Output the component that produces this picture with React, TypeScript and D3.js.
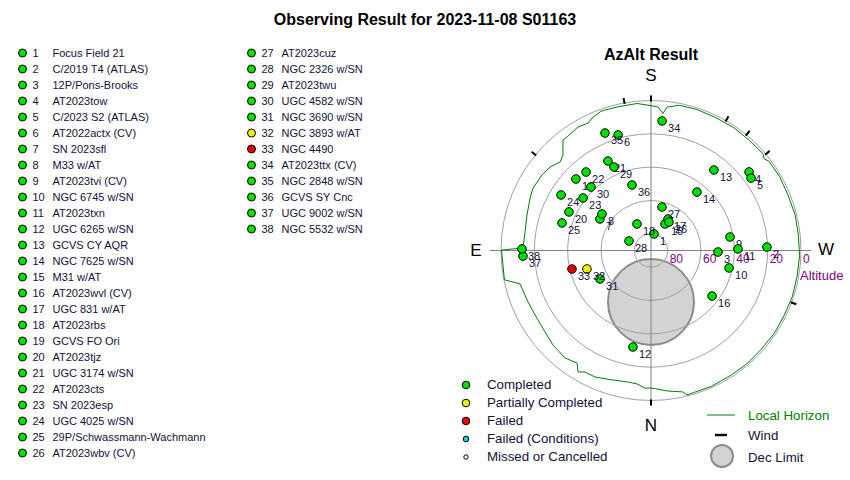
import { useEffect } from "react";
import * as d3 from "d3";

// targets, in plan order
const targetNames = [
  "Focus Field 21", "C/2019 T4 (ATLAS)", "12P/Pons-Brooks", "AT2023tow", "C/2023 S2 (ATLAS)",
  "AT2022actx (CV)", "SN 2023sfl", "M33 w/AT", "AT2023tvi (CV)", "NGC 6745 w/SN",
  "AT2023txn", "UGC 6265 w/SN", "GCVS CY AQR", "NGC 7625 w/SN", "M31 w/AT",
  "AT2023wvl (CV)", "UGC 831 w/AT", "AT2023rbs", "GCVS FO Ori", "AT2023tjz",
  "UGC 3174 w/SN", "AT2023cts", "SN 2023esp", "UGC 4025 w/SN", "29P/Schwassmann-Wachmann",
  "AT2023wbv (CV)", "AT2023cuz", "NGC 2326 w/SN", "AT2023twu", "UGC 4582 w/SN",
  "NGC 3690 w/SN", "NGC 3893 w/AT", "NGC 4490", "AT2023ttx (CV)", "NGC 2848 w/SN",
  "GCVS SY Cnc", "UGC 9002 w/SN", "NGC 5532 w/SN",
];
const targetAz = [
  190.3, 268.3, 271.3, 231.3, 234.1, 164.1, 121.7, 126.7, 260.3, 282.6,
  269.0, 10.6, 218.0, 218.2, 207.8, 306.7, 208.4, 152.2, 133.6, 115.2,
  154.3, 140.4, 127.7, 121.7, 107.2, 212.3, 194.2, 113.4, 156.1, 136.6,
  60.8, 73.9, 76.8, 184.9, 158.6, 163.8, 87.5, 90.7,
];
const targetAlt = [
  79.9, 20.4, 49.8, 14.6, 15.9, 17.9, 54.0, 53.3, 41.9, 42.0,
  37.8, 31.1, 28.7, 45.4, 72.0, 44.3, 68.5, 72.0, 27.8, 35.6,
  30.4, 28.9, 38.5, 26.6, 34.1, 69.8, 63.1, 75.6, 35.2, 37.6,
  55.0, 50.0, 41.3, 12.0, 14.3, 49.1, 13.1, 12.6,
];
const targetStatus = [
  "C", "C", "C", "C", "C", "C", "C", "C", "C", "C",
  "C", "C", "C", "C", "C", "C", "C", "C", "C", "C",
  "C", "C", "C", "C", "C", "C", "C", "C", "C", "C",
  "C", "P", "F", "C", "C", "C", "C", "C",
];

// local horizon [az, alt]
const horizon: [number, number][] = [
  [0, 7.5], [2.5, 7.4], [6, 9.5], [9.9, 9.9], [16.8, 8.9], [23.9, 7.0], [28.5, 7.0],
  [31.0, 5.0], [33.3, 9.2], [38.7, 7.4], [46.0, 8.3], [52.4, 9.8], [60.9, 10.4],
  [67.3, 10.0], [75.7, 8.9], [78.7, 0.3], [90.2, 0.3], [91.1, 13.2], [98.4, 13.6],
  [106.0, 12.6], [113.5, 10.9], [117.9, 9.9], [124.7, 10.4], [129.6, 11.4], [134.2, 13.9],
  [137.3, 12.1], [141.5, 5.2], [143.5, 5.3], [149.4, 3.9], [153.7, 4.7], [156.0, 3.0],
  [160.3, 1.2], [166.7, 1.5], [174.6, 1.4], [180, 3.1], [182.8, 3.8], [185.0, 7.5],
  [186.4, 3.4], [191.1, 1.2], [198, 1.0], [206, 1.3], [214, 1.1], [222, 1.4], [229, 1.2],
  [231, 2.6], [233, 1.2], [240, 1.0], [248, 1.3], [256, 0.9], [264, 1.1], [272, 0.8],
  [280, 1.0], [288, 0.8], [296, 1.1], [304, 0.9], [312, 1.2], [320, 0.9], [328, 1.1],
  [336, 0.8], [343, 1.0], [346, 0.7], [347.3, 3.0], [353.5, 5.2], [358, 7.0],
];
const windAz = [0, 129.6, 169.8, 180, 210, 219.5, 230, 290.3];
const altTicks = [80, 60, 40, 20, 0];
const decLimitAz = 0;
const decLimitAlt = 59.1;
const decLimitRadius = 25.8;

const statusLabels = ["Completed", "Partially Completed", "Failed", "Failed (Conditions)", "Missed or Cancelled"];
const statusColors = ["#00e000", "#f2f200", "#e60000", "#00d8e0", "#ffffff"];
const statusSizes = [3.8, 3.8, 3.8, 2.8, 2.2];
const statusCode: Record<string, number> = { C: 0, P: 1, F: 2 };

const font = "'Liberation Sans', Arial, sans-serif";
const textColor = "#12123a";

const cx = 651;
const cy = 250.5;
const R = 150;

export default function App() {
  useEffect(() => {
    document.body.style.margin = "0";
  }, []);

  const r = d3.scaleLinear().domain([90, 0]).range([0, R]);
  const proj = (az: number, alt: number): [number, number] => {
    const a = (az * Math.PI) / 180;
    const rr = r(alt);
    return [cx - rr * Math.sin(a), cy + rr * Math.cos(a)];
  };
  const horizonPath = d3.line().curve(d3.curveLinearClosed)(horizon.map(([az, alt]) => proj(az, alt))) || "";
  const [dcx, dcy] = proj(decLimitAz, decLimitAlt);
  const dR = (decLimitRadius / 90) * R;

  const rowY = d3.scaleLinear().domain([0, 1]).range([53, 69]);

  return (
    <svg width={850} height={480} style={{ display: "block", background: "#fff" }} fontFamily={font}>
      <text x={425} y={25} textAnchor="middle" fontSize={16} fontWeight="bold" fill="#000">
        Observing Result for 2023-11-08 S01163
      </text>

      {/* target list */}
      {targetNames.map((name, i) => {
        const col = i < 26 ? 0 : 1;
        const row = col === 0 ? i : i - 26;
        const x0 = col === 0 ? 22.5 : 251.5;
        const y = rowY(row);
        return (
          <g key={name}>
            <circle cx={x0} cy={y} r={4} fill={statusColors[statusCode[targetStatus[i]]]} stroke="#000" strokeWidth={1} />
            <text x={x0 + 10} y={y + 4} fontSize={11} fill={textColor}>{i + 1}</text>
            <text x={x0 + 30} y={y + 4} fontSize={11} fill={textColor}>{name}</text>
          </g>
        );
      })}

      <text x={cx} y={60} textAnchor="middle" fontSize={16} fontWeight="bold" fill="#000">AzAlt Result</text>

      {/* dec limit */}
      <circle cx={dcx} cy={dcy} r={dR} fill="#d3d3d3" stroke="#8c8c8c" strokeWidth={2} />

      {/* rings */}
      {altTicks.map((a) => (
        <circle key={a} cx={cx} cy={cy} r={Math.max(r(a), 0.1)} fill="none" stroke="#a0a0a0" strokeWidth={1} />
      ))}
      <line x1={cx - 161} x2={cx + 160} y1={cy} y2={cy} stroke="#808080" strokeWidth={1} />
      <line x1={cx} x2={cx} y1={cy - 155} y2={cy + 155} stroke="#808080" strokeWidth={1} />
      {altTicks.map((a) => (
        <text key={a} x={cx + r(a) + 2} y={cy + 12} fontSize={12} fill="#800080">{a}</text>
      ))}
      <text x={800} y={280} fontSize={13} fill="#800080">Altitude</text>

      <text x={cx} y={81} textAnchor="middle" fontSize={17} fill="#000">S</text>
      <text x={cx} y={431} textAnchor="middle" fontSize={17} fill="#000">N</text>
      <text x={476} y={256} textAnchor="middle" fontSize={17} fill="#000">E</text>
      <text x={826} y={255} textAnchor="middle" fontSize={17} fill="#000">W</text>

      <path d={horizonPath} fill="none" stroke="#008000" strokeWidth={1} />

      {windAz.map((az, i) => {
        const a = (az * Math.PI) / 180;
        return (
          <line
            key={i}
            x1={cx - (R - 1) * Math.sin(a)}
            y1={cy + (R - 1) * Math.cos(a)}
            x2={cx - (R + 5) * Math.sin(a)}
            y2={cy + (R + 5) * Math.cos(a)}
            stroke="#000"
            strokeWidth={2}
          />
        );
      })}

      {targetNames.map((name, i) => {
        const [x, y] = proj(targetAz[i], targetAlt[i]);
        return (
          <g key={"p" + name}>
            <circle cx={x} cy={y} r={4.3} fill={statusColors[statusCode[targetStatus[i]]]} stroke="#000" strokeWidth={1} />
            <text x={x + 6} y={y + 11} fontSize={11} fill={textColor}>{i + 1}</text>
          </g>
        );
      })}

      {/* status legend */}
      {statusLabels.map((s, i) => (
        <g key={s}>
          <circle cx={466} cy={385 + i * 18} r={statusSizes[i]} fill={statusColors[i]} stroke="#000" strokeWidth={1} />
          <text x={487} y={389 + i * 18} fontSize={13.3} fill={textColor}>{s}</text>
        </g>
      ))}

      <line x1={707} x2={735} y1={415} y2={415} stroke="#008000" strokeWidth={1} />
      <text x={748} y={420} fontSize={13.3} fill="#008000">Local Horizon</text>
      <line x1={715} x2={727} y1={435} y2={435} stroke="#000" strokeWidth={2.4} />
      <text x={748} y={440} fontSize={13.3} fill={textColor}>Wind</text>
      <circle cx={722} cy={456} r={11} fill="#d3d3d3" stroke="#8c8c8c" strokeWidth={2} />
      <text x={748} y={462} fontSize={13.3} fill={textColor}>Dec Limit</text>
    </svg>
  );
}
